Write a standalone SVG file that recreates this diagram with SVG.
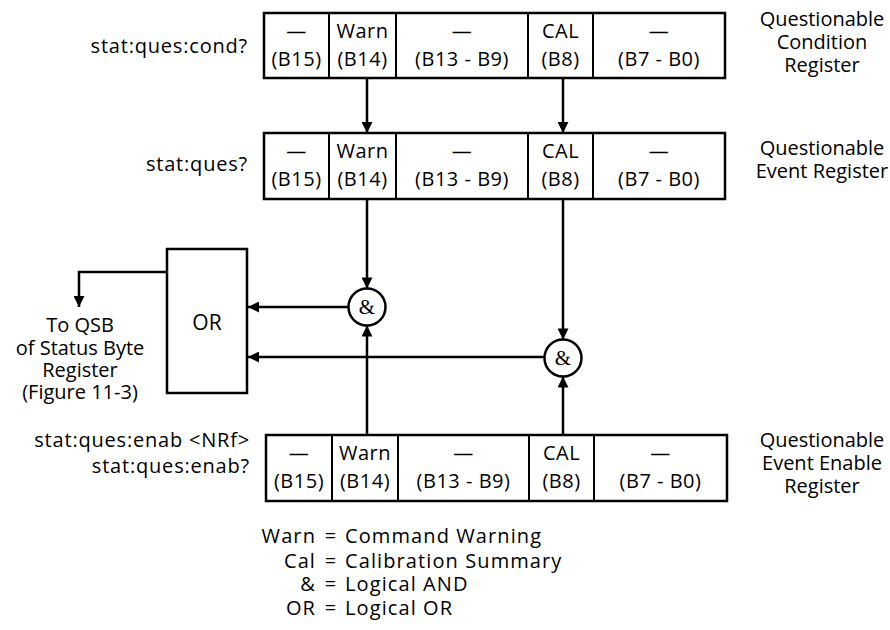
<svg xmlns="http://www.w3.org/2000/svg" width="890" height="630" viewBox="0 0 890 630">
<style>
text{font-family:"Open Sans","Liberation Sans",sans-serif;font-size:20px;fill:#000}
.c{text-anchor:middle}
.r{text-anchor:end}
.cell{font-size:20px;letter-spacing:0.5px}
.cmd{font-size:20px;letter-spacing:0.8px}
.lbl{font-size:20px}
.qsb{font-size:19.5px}
.leg{font-size:21px;letter-spacing:1.1px}
.box{fill:#fff;stroke:#000;stroke-width:2.5}
.div{stroke:#000;stroke-width:2}
.ln{fill:none;stroke:#000;stroke-width:2.5}
.amp{font-family:"Liberation Serif",serif;font-size:21px}
</style>
<defs>
<marker id="ah" viewBox="0 0 10 10" refX="10" refY="5" markerWidth="4.6" markerHeight="4.4" orient="auto" markerUnits="strokeWidth">
<path d="M0,0 L10,5 L0,10 z" fill="#000"/>
</marker>
</defs>

<g id="reg-cond">
<rect class="box" x="264" y="13" width="461" height="65"/>
<line class="div" x1="329" y1="13" x2="329" y2="78"/>
<line class="div" x1="396" y1="13" x2="396" y2="78"/>
<line class="div" x1="528" y1="13" x2="528" y2="78"/>
<line class="div" x1="593" y1="13" x2="593" y2="78"/>
<g class="cell">
<text class="c" x="296.5" y="38">—</text><text class="c" x="296.5" y="66">(B15)</text>
<text class="c" x="362.5" y="38">Warn</text><text class="c" x="362.5" y="66">(B14)</text>
<text class="c" x="462" y="38">—</text><text class="c" x="462" y="66">(B13 - B9)</text>
<text class="c" x="560.5" y="38">CAL</text><text class="c" x="560.5" y="66">(B8)</text>
<text class="c" x="659" y="38">—</text><text class="c" x="659" y="66">(B7 - B0)</text>
</g>
<text class="r cmd" x="248" y="53">stat:ques:cond?</text>
<text class="c lbl" x="822" y="26">Questionable</text>
<text class="c lbl" x="822" y="49">Condition</text>
<text class="c lbl" x="822" y="72">Register</text>
</g>

<g id="reg-event">
<rect class="box" x="264" y="133" width="461" height="66"/>
<line class="div" x1="329" y1="133" x2="329" y2="199"/>
<line class="div" x1="396" y1="133" x2="396" y2="199"/>
<line class="div" x1="528" y1="133" x2="528" y2="199"/>
<line class="div" x1="593" y1="133" x2="593" y2="199"/>
<g class="cell">
<text class="c" x="296.5" y="158">—</text><text class="c" x="296.5" y="186">(B15)</text>
<text class="c" x="362.5" y="158">Warn</text><text class="c" x="362.5" y="186">(B14)</text>
<text class="c" x="462" y="158">—</text><text class="c" x="462" y="186">(B13 - B9)</text>
<text class="c" x="560.5" y="158">CAL</text><text class="c" x="560.5" y="186">(B8)</text>
<text class="c" x="659" y="158">—</text><text class="c" x="659" y="186">(B7 - B0)</text>
</g>
<text class="r cmd" x="248" y="171">stat:ques?</text>
<text class="c lbl" x="822" y="155">Questionable</text>
<text class="c lbl" x="822" y="178">Event Register</text>
</g>

<g id="reg-enable">
<rect class="box" x="266" y="435" width="461" height="66"/>
<line class="div" x1="332" y1="435" x2="332" y2="501"/>
<line class="div" x1="398" y1="435" x2="398" y2="501"/>
<line class="div" x1="529" y1="435" x2="529" y2="501"/>
<line class="div" x1="594" y1="435" x2="594" y2="501"/>
<g class="cell">
<text class="c" x="299" y="460">—</text><text class="c" x="299" y="488">(B15)</text>
<text class="c" x="365" y="460">Warn</text><text class="c" x="365" y="488">(B14)</text>
<text class="c" x="463.5" y="460">—</text><text class="c" x="463.5" y="488">(B13 - B9)</text>
<text class="c" x="561.5" y="460">CAL</text><text class="c" x="561.5" y="488">(B8)</text>
<text class="c" x="660.5" y="460">—</text><text class="c" x="660.5" y="488">(B7 - B0)</text>
</g>
<text class="r cmd" x="250" y="447">stat:ques:enab &lt;NRf&gt;</text>
<text class="r cmd" x="250" y="473">stat:ques:enab?</text>
<text class="c lbl" x="822" y="447">Questionable</text>
<text class="c lbl" x="822" y="470">Event Enable</text>
<text class="c lbl" x="822" y="493">Register</text>
</g>

<g id="and1">
<circle class="ln" cx="367" cy="307" r="18.5" fill="#fff"/>
<text class="c amp" x="367" y="314">&amp;</text>
</g>
<g id="and2">
<circle class="ln" cx="563" cy="358" r="18.5" fill="#fff"/>
<text class="c amp" x="563" y="365">&amp;</text>
</g>

<g id="or">
<rect class="box" x="167" y="249" width="80" height="144"/>
<text class="c" x="207" y="330" style="font-size:21px">OR</text>
</g>

<g id="qsb-label" class="qsb">
<text class="c" x="80" y="332">To QSB</text>
<text class="c" x="80" y="355">of Status Byte</text>
<text class="c" x="80" y="377">Register</text>
<text class="c" x="80" y="399">(Figure 11-3)</text>
</g>

<g id="connectors">
<line class="ln" x1="367" y1="78" x2="367" y2="133" marker-end="url(#ah)"/>
<line class="ln" x1="563" y1="78" x2="563" y2="133" marker-end="url(#ah)"/>
<line class="ln" x1="367" y1="199" x2="367" y2="288.5" marker-end="url(#ah)"/>
<line class="ln" x1="563" y1="199" x2="563" y2="339.5" marker-end="url(#ah)"/>
<line class="ln" x1="367" y1="435" x2="367" y2="325.5" marker-end="url(#ah)"/>
<line class="ln" x1="563" y1="435" x2="563" y2="376.5" marker-end="url(#ah)"/>
<line class="ln" x1="348.5" y1="307" x2="248" y2="307" marker-end="url(#ah)"/>
<line class="ln" x1="544.5" y1="357" x2="248" y2="357" marker-end="url(#ah)"/>
<polyline class="ln" points="167,272 79,272 79,307" marker-end="url(#ah)"/>
</g>

<g id="legend" class="leg">
<text class="r" x="316" y="543">Warn</text><text class="c" x="331" y="543">=</text><text x="345" y="543">Command Warning</text>
<text class="r" x="316" y="568">Cal</text><text class="c" x="331" y="568">=</text><text x="345" y="568">Calibration Summary</text>
<text class="r" x="316" y="591">&amp;</text><text class="c" x="331" y="591">=</text><text x="345" y="591">Logical AND</text>
<text class="r" x="316" y="615">OR</text><text class="c" x="331" y="615">=</text><text x="345" y="615">Logical OR</text>
</g>
</svg>
